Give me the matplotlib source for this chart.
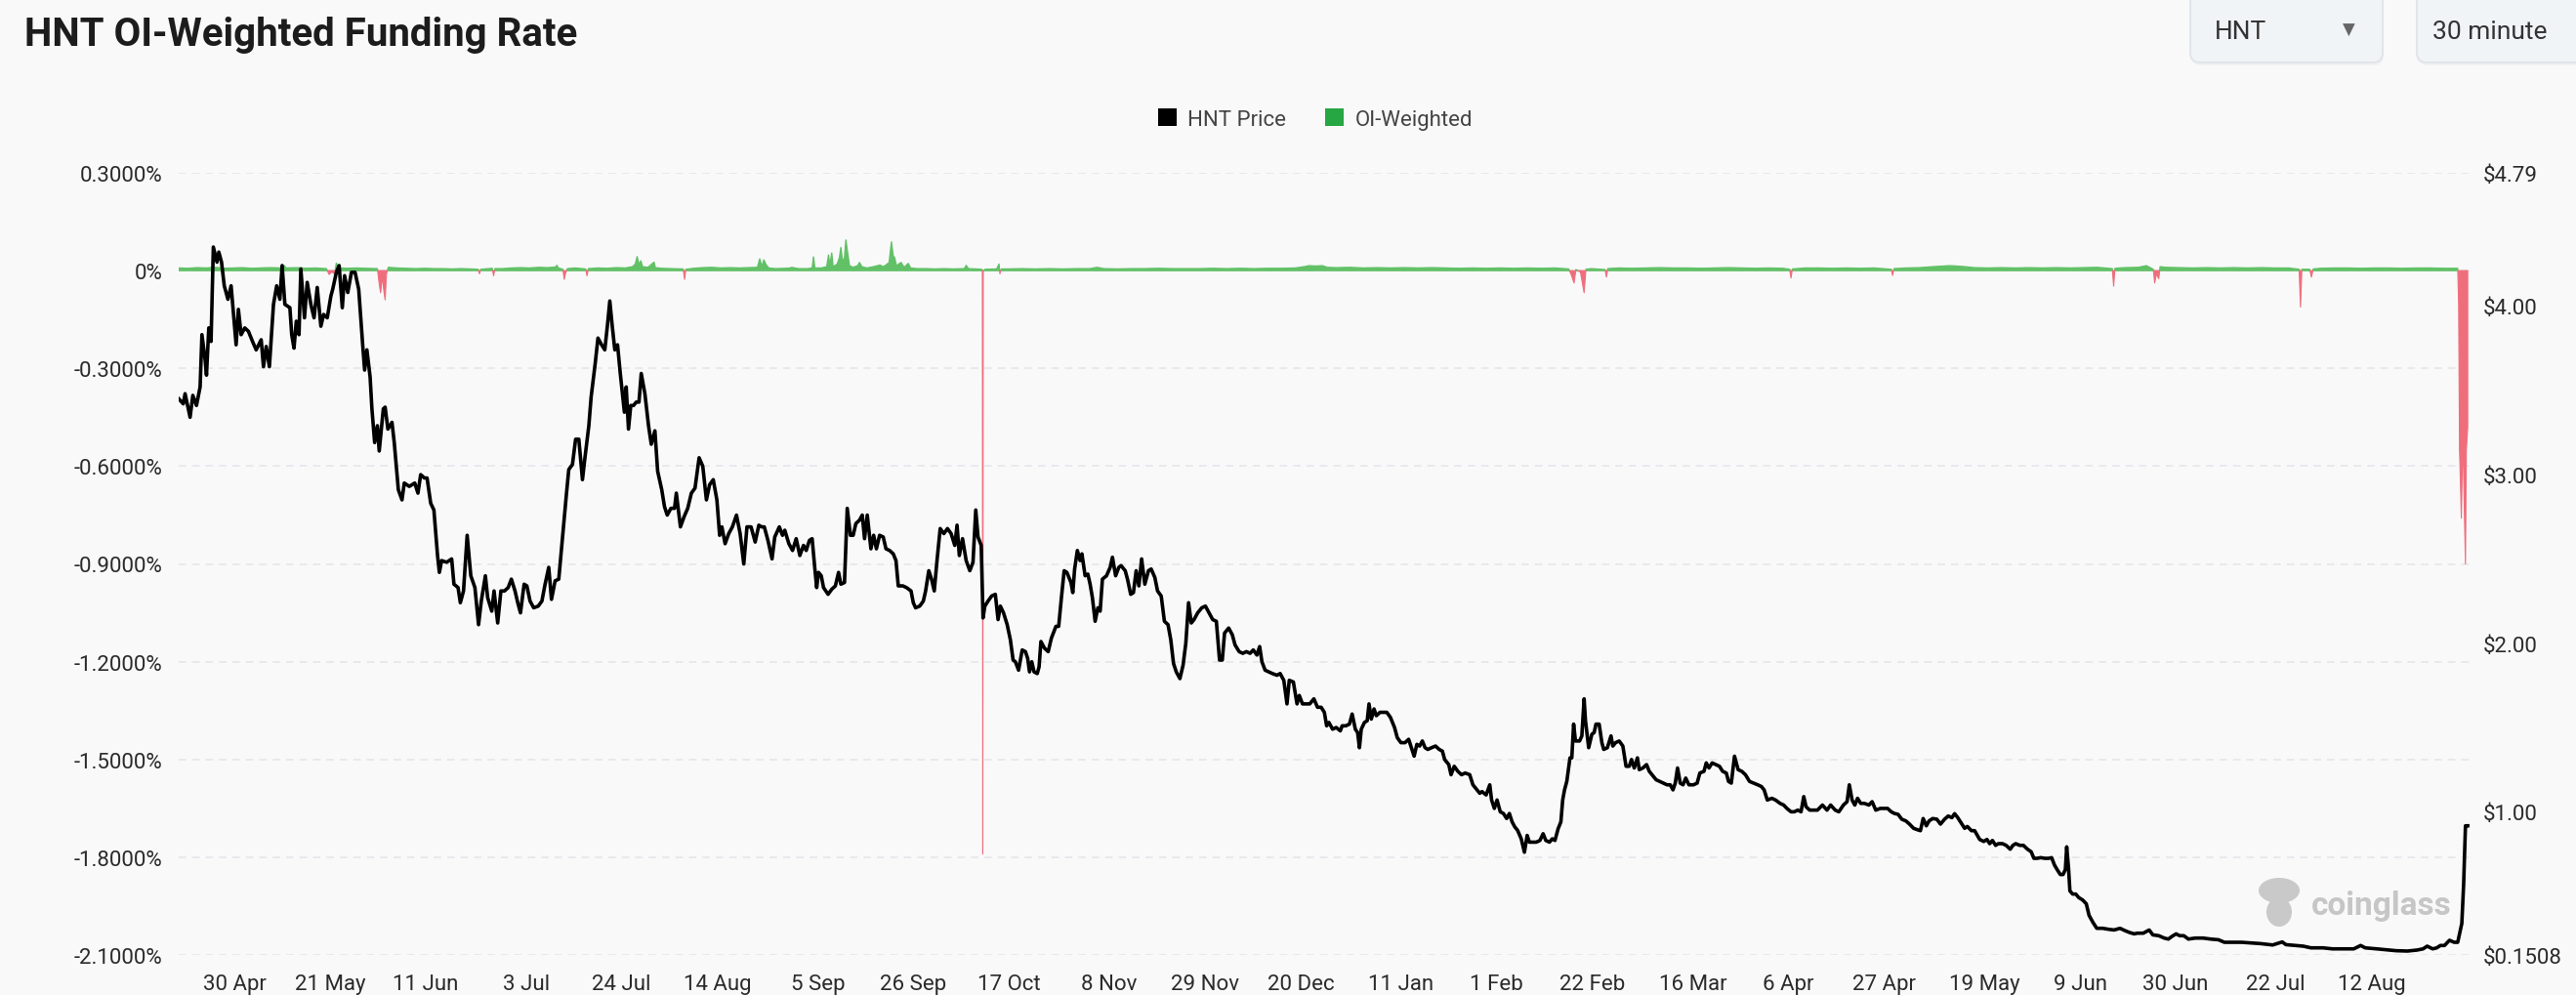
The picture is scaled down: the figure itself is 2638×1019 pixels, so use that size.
import numpy as np
import pandas as pd
import matplotlib
matplotlib.use("Agg")
import matplotlib.pyplot as plt
from matplotlib.patches import Patch, FancyBboxPatch, Ellipse

plt.rcParams['font.family'] = ['Roboto', 'DejaVu Sans']

# ---- data ----
start = pd.Timestamp("2024-04-17 19:00")

# (days since first sample, HNT price in USD)
hnt_price = [
    (0.0, 3.45), (1.0, 3.42), (1.4, 3.48), (2.5, 3.34), (3.1, 3.47), (3.9, 3.41), (4.7, 3.52),
    (5.1, 3.83), (5.8, 3.68), (6.1, 3.59), (6.6, 3.87), (7.1, 3.79), (7.6, 4.35), (8.4, 4.26),
    (8.8, 4.32), (9.4, 4.26), (10.0, 4.12), (10.8, 4.04), (11.5, 4.12), (12.1, 3.93), (12.6, 3.77),
    (13.1, 3.98), (13.7, 3.83), (14.5, 3.87), (15.3, 3.85), (16.2, 3.79), (17.0, 3.74), (18.1, 3.80),
    (18.6, 3.64), (19.2, 3.76), (19.9, 3.64), (20.8, 4.01), (21.5, 4.12), (22.2, 4.04), (22.7, 4.24),
    (23.3, 4.01), (24.4, 3.99), (24.8, 3.83), (25.3, 3.75), (25.8, 3.91), (26.4, 3.83), (26.8, 4.22),
    (27.6, 3.93), (28.2, 4.14), (29.0, 4.01), (29.7, 3.93), (30.4, 4.11), (31.2, 3.88), (31.8, 3.95),
    (32.6, 3.93), (33.4, 4.06), (33.8, 4.10), (34.6, 4.20), (35.2, 4.24), (35.9, 3.99), (36.4, 4.18),
    (37.1, 4.08), (37.9, 4.20), (38.7, 4.20), (39.5, 4.10), (40.4, 3.76), (40.8, 3.62), (41.3, 3.74),
    (42.0, 3.58), (42.4, 3.39), (43.0, 3.19), (43.6, 3.29), (44.0, 3.14), (44.9, 3.39), (45.3, 3.40),
    (45.9, 3.27), (46.8, 3.31), (47.3, 3.19), (48.2, 2.91), (49.0, 2.85), (49.5, 2.95), (50.6, 2.93),
    (51.8, 2.95), (52.5, 2.89), (53.1, 3.00), (53.9, 2.98), (54.5, 2.98), (55.3, 2.83), (56.0, 2.79),
    (56.8, 2.52), (57.2, 2.42), (57.7, 2.49), (58.8, 2.48), (59.9, 2.50), (60.4, 2.35), (61.3, 2.33),
    (61.8, 2.24), (62.5, 2.31), (63.3, 2.64), (64.1, 2.40), (65.0, 2.33), (65.8, 2.11), (66.4, 2.25),
    (67.3, 2.40), (67.8, 2.27), (68.7, 2.19), (69.2, 2.31), (70.0, 2.12), (70.7, 2.31), (71.5, 2.31),
    (72.3, 2.33), (73.0, 2.38), (73.8, 2.31), (74.4, 2.24), (75.0, 2.18), (75.8, 2.35), (76.4, 2.34),
    (77.1, 2.25), (77.9, 2.21), (78.9, 2.22), (79.7, 2.25), (80.4, 2.35), (81.2, 2.45), (81.8, 2.26),
    (82.6, 2.37), (83.4, 2.38), (84.2, 2.62), (85.1, 2.89), (85.6, 3.03), (86.4, 3.06), (87.1, 3.21),
    (87.8, 3.21), (88.6, 2.97), (89.1, 3.09), (90.0, 3.29), (90.5, 3.46), (91.4, 3.66), (92.0, 3.81),
    (92.8, 3.77), (93.5, 3.74), (94.1, 3.89), (94.6, 4.03), (95.1, 3.89), (95.7, 3.74), (96.3, 3.77),
    (96.9, 3.60), (97.8, 3.37), (98.2, 3.52), (98.7, 3.27), (99.2, 3.41), (99.8, 3.41), (100.4, 3.43),
    (101.0, 3.43), (101.5, 3.60), (102.3, 3.48), (103.1, 3.29), (103.7, 3.18), (104.5, 3.26),
    (105.1, 3.02), (106.0, 2.91), (106.6, 2.81), (107.2, 2.76), (108.0, 2.80), (108.8, 2.80),
    (109.2, 2.89), (110.1, 2.69), (110.9, 2.75), (111.7, 2.80), (112.5, 2.89), (113.3, 2.92),
    (114.2, 3.10), (115.0, 3.05), (115.8, 2.85), (116.5, 2.94), (117.3, 2.97), (118.1, 2.85),
    (118.7, 2.64), (119.2, 2.69), (119.9, 2.59), (120.7, 2.65), (121.5, 2.69), (122.4, 2.76),
    (123.2, 2.65), (124.0, 2.47), (124.7, 2.69), (125.6, 2.69), (126.5, 2.60), (127.3, 2.70),
    (127.9, 2.69), (128.5, 2.69), (129.3, 2.61), (130.2, 2.50), (130.8, 2.63), (131.8, 2.69),
    (132.5, 2.64), (133.0, 2.67), (133.9, 2.59), (134.7, 2.55), (135.5, 2.62), (136.3, 2.52),
    (137.1, 2.58), (137.7, 2.55), (138.4, 2.61), (139.0, 2.62), (139.6, 2.44), (140.0, 2.33),
    (140.4, 2.42), (141.0, 2.40), (141.5, 2.33), (142.5, 2.29), (143.3, 2.32), (144.1, 2.34),
    (144.8, 2.42), (145.3, 2.35), (146.1, 2.36), (146.7, 2.80), (147.4, 2.64), (148.0, 2.64),
    (148.6, 2.71), (149.4, 2.73), (150.0, 2.76), (150.5, 2.62), (151.1, 2.76), (151.9, 2.56),
    (152.5, 2.64), (153.1, 2.56), (153.8, 2.64), (154.6, 2.63), (155.2, 2.56), (156.0, 2.55),
    (156.8, 2.53), (157.4, 2.49), (157.9, 2.34), (158.9, 2.34), (159.7, 2.33), (160.7, 2.31),
    (161.2, 2.24), (161.7, 2.21), (162.6, 2.22), (163.4, 2.25), (163.9, 2.31), (164.6, 2.43),
    (165.2, 2.38), (165.8, 2.31), (166.4, 2.49), (167.1, 2.68), (167.9, 2.65), (168.7, 2.68),
    (169.5, 2.65), (170.3, 2.58), (170.8, 2.70), (171.3, 2.52), (172.0, 2.62), (172.8, 2.49),
    (173.6, 2.43), (174.3, 2.48), (174.9, 2.79), (175.4, 2.63), (176.1, 2.58), (176.5, 2.15),
    (176.9, 2.22), (177.6, 2.25), (178.4, 2.28), (179.2, 2.29), (179.8, 2.14), (180.3, 2.22),
    (181.0, 2.18), (181.8, 2.11), (182.5, 2.02), (183.1, 1.90), (183.6, 1.89), (184.3, 1.84),
    (185.1, 1.96), (185.8, 1.95), (186.3, 1.91), (186.7, 1.83), (187.2, 1.89), (187.7, 1.83),
    (188.4, 1.82), (188.8, 1.86), (189.2, 2.01), (190.0, 1.97), (190.8, 1.95), (191.5, 2.03),
    (192.5, 2.10), (193.1, 2.10), (193.7, 2.27), (194.3, 2.43), (194.9, 2.42), (195.8, 2.36),
    (196.2, 2.30), (196.6, 2.44), (197.2, 2.55), (197.8, 2.49), (198.2, 2.53), (198.9, 2.40),
    (199.5, 2.41), (200.0, 2.35), (200.5, 2.27), (201.1, 2.13), (201.7, 2.21), (202.2, 2.19),
    (202.7, 2.38), (203.6, 2.40), (204.4, 2.45), (204.9, 2.51), (205.6, 2.40), (206.3, 2.45),
    (206.8, 2.46), (207.7, 2.43), (208.2, 2.38), (208.9, 2.29), (209.5, 2.30), (210.1, 2.43),
    (210.7, 2.34), (211.3, 2.50), (212.0, 2.35), (212.8, 2.43), (213.4, 2.44), (214.2, 2.39),
    (214.8, 2.31), (215.6, 2.28), (216.3, 2.13), (217.1, 2.11), (217.7, 2.02), (218.3, 1.88),
    (218.9, 1.83), (219.7, 1.79), (220.4, 1.87), (221.0, 2.00), (221.6, 2.24), (222.2, 2.12),
    (222.8, 2.14), (223.6, 2.18), (224.5, 2.21), (225.3, 2.22), (226.1, 2.18), (226.9, 2.14),
    (227.7, 2.13), (228.4, 1.90), (229.0, 1.90), (229.5, 2.06), (230.4, 2.09), (231.2, 2.05),
    (231.8, 1.99), (232.7, 1.95), (233.5, 1.94), (234.3, 1.95), (235.1, 1.94), (235.8, 1.96),
    (236.6, 1.93), (237.2, 1.98), (237.7, 1.89), (238.4, 1.84), (239.2, 1.83), (240.0, 1.82),
    (241.0, 1.81), (241.7, 1.82), (242.5, 1.78), (243.2, 1.64), (243.7, 1.78), (244.6, 1.77),
    (245.4, 1.64), (245.9, 1.69), (246.6, 1.64), (247.4, 1.64), (248.2, 1.64), (249.1, 1.67),
    (249.9, 1.62), (250.7, 1.62), (251.4, 1.59), (251.9, 1.51), (252.4, 1.53), (253.2, 1.49),
    (254.0, 1.50), (254.9, 1.48), (255.3, 1.51), (256.1, 1.51), (256.9, 1.52), (257.5, 1.58),
    (258.2, 1.49), (258.7, 1.47), (259.1, 1.38), (259.5, 1.49), (260.2, 1.53), (260.8, 1.54),
    (261.2, 1.64), (261.7, 1.55), (262.3, 1.61), (262.8, 1.57), (263.6, 1.59), (264.3, 1.59),
    (265.1, 1.59), (265.9, 1.56), (266.8, 1.50), (267.4, 1.44), (268.2, 1.41), (269.1, 1.41),
    (269.9, 1.43), (270.5, 1.38), (271.1, 1.33), (271.7, 1.40), (272.3, 1.39), (272.9, 1.42),
    (273.5, 1.38), (274.1, 1.37), (274.9, 1.38), (275.8, 1.39), (276.6, 1.37), (277.3, 1.36),
    (277.8, 1.31), (278.7, 1.28), (279.2, 1.22), (279.9, 1.27), (280.7, 1.24), (281.5, 1.22),
    (282.3, 1.23), (283.3, 1.22), (284.0, 1.16), (284.6, 1.14), (285.5, 1.11), (286.0, 1.12),
    (286.9, 1.10), (287.7, 1.16), (288.1, 1.07), (288.7, 1.02), (289.3, 1.07), (290.0, 1.00),
    (290.7, 0.99), (291.4, 0.96), (292.0, 0.99), (292.6, 0.94), (293.2, 0.91), (293.8, 0.89),
    (294.6, 0.84), (295.3, 0.76), (295.9, 0.86), (296.4, 0.82), (297.1, 0.82), (297.9, 0.82),
    (298.7, 0.83), (299.4, 0.87), (300.0, 0.83), (300.8, 0.82), (301.4, 0.84), (302.0, 0.83),
    (302.7, 0.90), (303.3, 0.94), (303.7, 1.07), (304.1, 1.13), (304.6, 1.18), (305.3, 1.32),
    (305.7, 1.32), (306.1, 1.52), (306.5, 1.42), (307.4, 1.42), (307.9, 1.45), (308.4, 1.67),
    (308.7, 1.54), (309.4, 1.38), (310.1, 1.46), (310.6, 1.47), (311.0, 1.52), (311.7, 1.52),
    (312.3, 1.41), (312.7, 1.37), (313.5, 1.38), (314.3, 1.45), (314.7, 1.39), (315.3, 1.41),
    (316.1, 1.42), (316.9, 1.39), (317.6, 1.27), (318.3, 1.27), (318.8, 1.31), (319.4, 1.26),
    (320.1, 1.32), (320.5, 1.25), (321.3, 1.26), (322.1, 1.28), (322.7, 1.24), (323.3, 1.22),
    (324.2, 1.19), (325.0, 1.18), (325.8, 1.17), (326.6, 1.16), (327.3, 1.16), (327.9, 1.13),
    (328.4, 1.17), (328.9, 1.26), (329.5, 1.17), (330.1, 1.16), (330.7, 1.20), (331.4, 1.16),
    (332.4, 1.16), (333.2, 1.17), (333.8, 1.23), (334.7, 1.24), (335.2, 1.29), (335.8, 1.26),
    (336.5, 1.29), (337.3, 1.28), (338.1, 1.27), (338.8, 1.24), (339.6, 1.23), (340.1, 1.18),
    (340.7, 1.17), (341.4, 1.33), (342.2, 1.25), (343.0, 1.24), (343.8, 1.22), (344.7, 1.18),
    (345.6, 1.17), (346.5, 1.16), (347.3, 1.15), (347.9, 1.13), (348.6, 1.07), (349.6, 1.08),
    (350.4, 1.07), (351.4, 1.05), (352.2, 1.04), (352.9, 1.02), (353.8, 1.00), (354.5, 1.00),
    (355.3, 1.01), (356.0, 1.00), (356.6, 1.09), (357.1, 1.03), (357.9, 1.01), (358.8, 1.01),
    (359.6, 1.01), (360.7, 1.04), (361.7, 1.01), (362.5, 1.04), (363.5, 1.01), (364.3, 1.00),
    (365.3, 1.04), (366.1, 1.06), (366.6, 1.16), (367.2, 1.07), (367.8, 1.04), (368.4, 1.08),
    (369.1, 1.05), (369.9, 1.05), (370.9, 1.04), (371.6, 1.06), (372.4, 1.01), (373.4, 1.02),
    (374.2, 1.02), (375.0, 1.02), (375.8, 1.00), (376.5, 0.99), (377.3, 0.985), (378.1, 0.956),
    (379.0, 0.946), (379.8, 0.927), (380.7, 0.902), (381.5, 0.894), (382.2, 0.888), (382.8, 0.960),
    (383.5, 0.917), (384.1, 0.946), (384.9, 0.960), (385.8, 0.956), (386.6, 0.927), (387.5, 0.956),
    (388.3, 0.975), (389.1, 0.965), (389.7, 0.989), (390.4, 0.965), (391.3, 0.927), (391.9, 0.902),
    (392.5, 0.913), (393.4, 0.888), (394.1, 0.888), (394.7, 0.859), (395.2, 0.836), (396.1, 0.824),
    (396.8, 0.836), (397.4, 0.811), (398.0, 0.830), (398.7, 0.801), (399.3, 0.811), (400.2, 0.811),
    (401.0, 0.801), (401.9, 0.778), (402.5, 0.801), (403.1, 0.811), (404.0, 0.801), (404.8, 0.801),
    (405.7, 0.778), (406.5, 0.763), (407.1, 0.724), (407.8, 0.724), (408.6, 0.728), (409.5, 0.724),
    (410.3, 0.724), (411.0, 0.728), (411.6, 0.685), (412.2, 0.657), (412.9, 0.628), (413.5, 0.628),
    (414.0, 0.657), (414.3, 0.792), (414.7, 0.666), (415.0, 0.531), (415.6, 0.512), (416.3, 0.512),
    (416.9, 0.492), (417.8, 0.477), (418.6, 0.454), (419.2, 0.386), (420.1, 0.342), (420.9, 0.309),
    (422.2, 0.309), (423.5, 0.303), (424.7, 0.299), (426.0, 0.309), (427.1, 0.295), (428.1, 0.284),
    (429.1, 0.276), (429.8, 0.280), (431.1, 0.280), (432.4, 0.299), (433.2, 0.270), (434.5, 0.265),
    (435.7, 0.251), (436.6, 0.245), (437.4, 0.261), (438.3, 0.276), (439.1, 0.265), (440.0, 0.265),
    (441.0, 0.245), (442.5, 0.251), (444.2, 0.251), (445.9, 0.245), (447.6, 0.241), (448.9, 0.226),
    (451.0, 0.226), (452.7, 0.226), (454.8, 0.222), (456.9, 0.218), (459.5, 0.210), (461.6, 0.228),
    (462.4, 0.212), (464.5, 0.207), (466.2, 0.203), (467.9, 0.193), (470.5, 0.193), (472.6, 0.187),
    (474.7, 0.187), (477.3, 0.187), (478.8, 0.207), (479.8, 0.193), (482.3, 0.187), (484.9, 0.180),
    (486.6, 0.176), (489.1, 0.174), (491.2, 0.180), (492.5, 0.187), (493.4, 0.203), (494.6, 0.187),
    (495.5, 0.193), (496.3, 0.207), (497.2, 0.207), (498.3, 0.238), (499.3, 0.226), (500.1, 0.226),
    (501.0, 0.338), (501.4, 0.570), (501.8, 0.917), (502.3, 0.917),
]

# (days since first sample, OI-weighted funding rate in %)
oi_funding = [
    (0, 0.008), (2, 0.007), (4, 0.009), (6, 0.008), (8, 0.010), (10, 0.007), (12, 0.008),
    (14, 0.009), (16, 0.007), (18, 0.008), (20, 0.009), (22.6, 0.008), (23.1, 0.016), (23.6, 0.008),
    (26, 0.009), (28, 0.007), (30, 0.008), (32.4, 0.006), (33.0, -0.012), (33.6, -0.004),
    (34.2, -0.010), (34.6, 0.023), (35.0, 0.008), (37, 0.007), (39, 0.008), (41, 0.007),
    (43.6, 0.006), (44.0, -0.040), (44.3, -0.068), (44.7, -0.020), (45.0, -0.060), (45.3, -0.090),
    (45.6, -0.010), (46.0, 0.010), (48, 0.008), (50, 0.007), (52, 0.006), (54, 0.007), (56, 0.006),
    (58, 0.006), (60, 0.005), (62, 0.006), (64, 0.005), (65.7, 0.004), (66.0, -0.010), (66.3, 0.004),
    (68, 0.006), (68.8, 0.007), (69.1, -0.016), (69.4, 0.006), (71, 0.006), (73, 0.008), (75, 0.009),
    (77, 0.008), (79, 0.010), (81, 0.009), (82.7, 0.011), (83.0, 0.016), (83.3, 0.008), (84.3, 0.004),
    (84.6, -0.027), (84.9, -0.008), (85.3, 0.006), (87, 0.008), (89.3, 0.005), (89.6, -0.016),
    (89.9, 0.006), (92, 0.008), (94, 0.007), (96, 0.009), (98, 0.008), (99.6, 0.012), (100.2, 0.020),
    (100.6, 0.043), (101.0, 0.018), (101.4, 0.030), (101.8, 0.012), (103, 0.010), (104.3, 0.026),
    (104.6, 0.009), (106, 0.007), (108, 0.006), (110.7, 0.005), (111.0, -0.027), (111.3, 0.004),
    (113, 0.007), (115, 0.009), (117, 0.010), (119, 0.008), (121, 0.009), (123, 0.008), (125, 0.009),
    (127.0, 0.010), (127.5, 0.036), (128.0, 0.012), (128.4, 0.033), (128.9, 0.018), (129.5, 0.008),
    (131, 0.006), (133, 0.007), (134.2, 0.008), (134.5, 0.010), (136, 0.006), (138, 0.006),
    (139.0, 0.008), (139.3, 0.042), (139.6, 0.008), (141, 0.008), (142.2, 0.012), (142.6, 0.048),
    (142.9, 0.015), (143.3, 0.054), (143.6, 0.012), (144.5, 0.020), (145.0, 0.040), (145.3, 0.071),
    (145.7, 0.025), (146.1, 0.040), (146.4, 0.094), (146.8, 0.054), (147.2, 0.015), (148, 0.010),
    (149.0, 0.015), (149.4, 0.025), (149.9, 0.012), (151, 0.008), (152.5, 0.012), (153.9, 0.017),
    (154.6, 0.012), (155.2, 0.017), (155.9, 0.025), (156.4, 0.088), (156.8, 0.045), (157.1, 0.040),
    (157.5, 0.015), (158.5, 0.025), (159.2, 0.010), (160.1, 0.022), (160.6, 0.008), (162, 0.006),
    (164, 0.006), (166, 0.005), (168, 0.006), (170, 0.005), (172.4, 0.006), (172.8, 0.016),
    (173.3, 0.006), (175, 0.005), (176.2, 0.004), (176.35, 0.0), (176.45, -1.79), (176.55, 0.0),
    (177, 0.004), (179.5, 0.005), (180.0, 0.020), (180.2, -0.010), (180.5, 0.005), (182, 0.005),
    (185, 0.006), (188, 0.005), (191, 0.006), (194, 0.005), (197, 0.006), (200, 0.006),
    (201.5, 0.010), (203, 0.006), (206, 0.005), (209, 0.006), (212, 0.006), (215, 0.007),
    (218, 0.006), (221, 0.006), (224, 0.006), (227, 0.007), (230, 0.006), (233, 0.007), (236, 0.006),
    (239, 0.007), (242, 0.007), (245, 0.008), (247.0, 0.012), (248, 0.015), (249.5, 0.014),
    (251, 0.015), (252, 0.010), (254, 0.009), (257, 0.010), (260, 0.008), (263, 0.009), (266, 0.008),
    (269, 0.009), (272, 0.008), (275, 0.009), (278, 0.008), (281, 0.007), (284, 0.008), (287, 0.007),
    (290, 0.008), (293, 0.007), (296, 0.008), (299, 0.007), (302, 0.008), (305.0, 0.005),
    (305.5, -0.010), (306.2, -0.038), (306.6, 0.003), (307.6, -0.005), (308.4, -0.068),
    (308.8, 0.004), (310, 0.006), (313.0, 0.003), (313.3, -0.020), (313.6, 0.006), (316, 0.008),
    (319, 0.007), (322, 0.008), (325, 0.009), (328, 0.008), (331, 0.008), (334, 0.007), (337, 0.008),
    (340, 0.009), (343, 0.008), (346, 0.007), (349, 0.008), (352, 0.007), (353.5, 0.004),
    (353.8, -0.023), (354.1, 0.005), (357, 0.008), (360, 0.008), (363, 0.007), (366, 0.008),
    (369, 0.007), (372, 0.008), (375.8, 0.004), (376.1, -0.015), (376.4, 0.006), (379, 0.008),
    (382, 0.009), (385, 0.012), (388.6, 0.015), (390, 0.014), (392, 0.012), (394, 0.009),
    (397, 0.008), (400, 0.009), (403, 0.008), (406, 0.009), (409, 0.008), (412, 0.009), (415, 0.008),
    (418, 0.009), (421, 0.010), (424.3, 0.006), (424.6, -0.048), (424.9, 0.007), (427, 0.009),
    (430, 0.010), (431.8, 0.015), (433.3, 0.004), (433.6, -0.038), (434.0, -0.010), (434.5, -0.025),
    (434.8, 0.012), (436, 0.010), (439, 0.009), (442, 0.008), (445, 0.009), (448, 0.008),
    (451, 0.009), (454, 0.008), (457, 0.009), (460, 0.008), (463, 0.008), (465.3, 0.004),
    (465.6, -0.112), (465.9, 0.004), (467.6, 0.004), (468.0, -0.020), (468.4, 0.005), (470, 0.007),
    (473, 0.008), (476, 0.008), (479, 0.007), (482, 0.008), (485, 0.008), (488, 0.007), (491, 0.008),
    (494, 0.008), (497, 0.007), (500.1, 0.007), (500.3, -0.10), (500.5, -0.55), (500.7, -0.65),
    (500.9, -0.76), (501.1, -0.60), (501.3, -0.55), (501.5, -0.70), (501.8, -0.90), (502.0, -0.55),
    (502.3, -0.48),
]

tick_dates = ["2024-04-30", "2024-05-21", "2024-06-11", "2024-07-03", "2024-07-24", "2024-08-14",
              "2024-09-05", "2024-09-26", "2024-10-17", "2024-11-08", "2024-11-29", "2024-12-20",
              "2025-01-11", "2025-02-01", "2025-02-22", "2025-03-16", "2025-04-06", "2025-04-27",
              "2025-05-19", "2025-06-09", "2025-06-30", "2025-07-22", "2025-08-12"]
tick_labels = ["30 Apr", "21 May", "11 Jun", "3 Jul", "24 Jul", "14 Aug", "5 Sep", "26 Sep",
               "17 Oct", "8 Nov", "29 Nov", "20 Dec", "11 Jan", "1 Feb", "22 Feb", "16 Mar",
               "6 Apr", "27 Apr", "19 May", "9 Jun", "30 Jun", "22 Jul", "12 Aug"]

rate_ticks = [0.3, 0.0, -0.3, -0.6, -0.9, -1.2, -1.5, -1.8, -2.1]
price_ticks = [4.79, 4.00, 3.00, 2.00, 1.00, 0.1508]
price_tick_labels = ["$4.79", "$4.00", "$3.00", "$2.00", "$1.00", "$0.1508"]
end_days = 502.7

# ---- prep ----
p_day, p_val = zip(*hnt_price)
f_day, f_val = zip(*oi_funding)
p_x = start + pd.to_timedelta(np.array(p_day), unit="D")
f_x = start + pd.to_timedelta(np.array(f_day), unit="D")
f_val = np.array(f_val)

bg = "#f9f9fa"
green = "#62c167"
red = "#ef6e7c"

W, H = 2638, 1020
fig = plt.figure(figsize=(W / 100, H / 100), dpi=100, facecolor=bg)
fig.subplots_adjust(left=183 / W, right=2529 / W, bottom=1 - 979 / H, top=1 - 178 / H)
ax = fig.add_subplot(111)
ax.set_facecolor(bg)

# funding rate area
ax.fill_between(f_x, 0, f_val, where=f_val >= 0, interpolate=True, color=green, lw=1.0, zorder=2)
ax.fill_between(f_x, 0, f_val, where=f_val <= 0, interpolate=True, color=red, lw=0.8, zorder=2)

ax.set_ylim(-2.1, 0.3)
ax.set_yticks(rate_ticks)
ax.set_yticklabels([("0%" if r == 0 else "%.4f%%" % r) for r in rate_ticks])
ax.set_xlim(start, start + pd.Timedelta(days=end_days))
ax.set_xticks(pd.to_datetime(tick_dates))
ax.set_xticklabels(tick_labels)
ax.grid(axis="y", color="#e4e5e8", linestyle=(0, (5, 4)), lw=1.1)
ax.grid(axis="x", visible=False)
ax.tick_params(axis="y", length=0, pad=12, labelsize=16, labelcolor="#2b2b2b")
ax.tick_params(axis="x", length=0, pad=14, labelsize=16, labelcolor="#2b2b2b")
for s in ax.spines.values():
    s.set_visible(False)

# price line on right axis
ax2 = ax.twinx()
ax2.plot(p_x, p_val, color="black", lw=2.6, solid_joinstyle="round", zorder=3)
ax2.set_ylim(0.1508, 4.79)
ax2.set_yticks(price_ticks)
ax2.set_yticklabels(price_tick_labels)
ax2.tick_params(axis="y", length=0, pad=10, labelsize=16, labelcolor="#2b2b2b")
for s in ax2.spines.values():
    s.set_visible(False)
ax2.set_xlim(start, start + pd.Timedelta(days=end_days))

# title and legend
fig.text(25 / W, 1 - 47 / H, "HNT OI-Weighted Funding Rate", fontsize=29, fontweight="bold",
         color="#1c1c1c", va="baseline")
fig.legend(handles=[Patch(fc="black"), Patch(fc="#27a644")], labels=["HNT Price", "OI-Weighted"],
           loc="center", bbox_to_anchor=(1347 / W, 1 - 123 / H), ncol=2, frameon=False,
           fontsize=16, handlelength=0.85, handleheight=0.85, columnspacing=1.8,
           handletextpad=0.5, labelcolor="#444444")

# overlay in pixel coordinates for UI bits
ov = fig.add_axes([0, 0, 1, 1], zorder=5)
ov.set_xlim(0, W)
ov.set_ylim(H, 0)
ov.axis("off")
ov.patch.set_alpha(0)
for x0, w in [(2243, 197), (2475, 200)]:
    ov.add_patch(FancyBboxPatch((x0 + 1, -20 + 3), w, 85, boxstyle="round,pad=0,rounding_size=10",
                                fc="#e9ecef", ec="none", alpha=0.6))
    ov.add_patch(FancyBboxPatch((x0, -20), w, 85, boxstyle="round,pad=0,rounding_size=10",
                                fc="#f1f4f7", ec="#e1e5ea", lw=1.5))
ov.text(2268, 33, "HNT", fontsize=19, color="#333333", va="center")
ov.text(2405, 31, "\u25BC", fontsize=12, color="#666666", va="center", ha="center",
        family=["DejaVu Sans"])
ov.text(2491, 33, "30 minute", fontsize=19, color="#333333", va="center")

# coinglass watermark
ov.add_patch(Ellipse((2334, 913), 42, 26, fc="#c9c9c9", ec="none"))
ov.add_patch(Ellipse((2334, 935), 26, 30, fc="#c9c9c9", ec="none"))
ov.text(2367, 937, "coinglass", fontsize=24, fontweight="bold", color="#c6c6c6", va="baseline")

fig.savefig("out.png", dpi=100, facecolor=bg)
